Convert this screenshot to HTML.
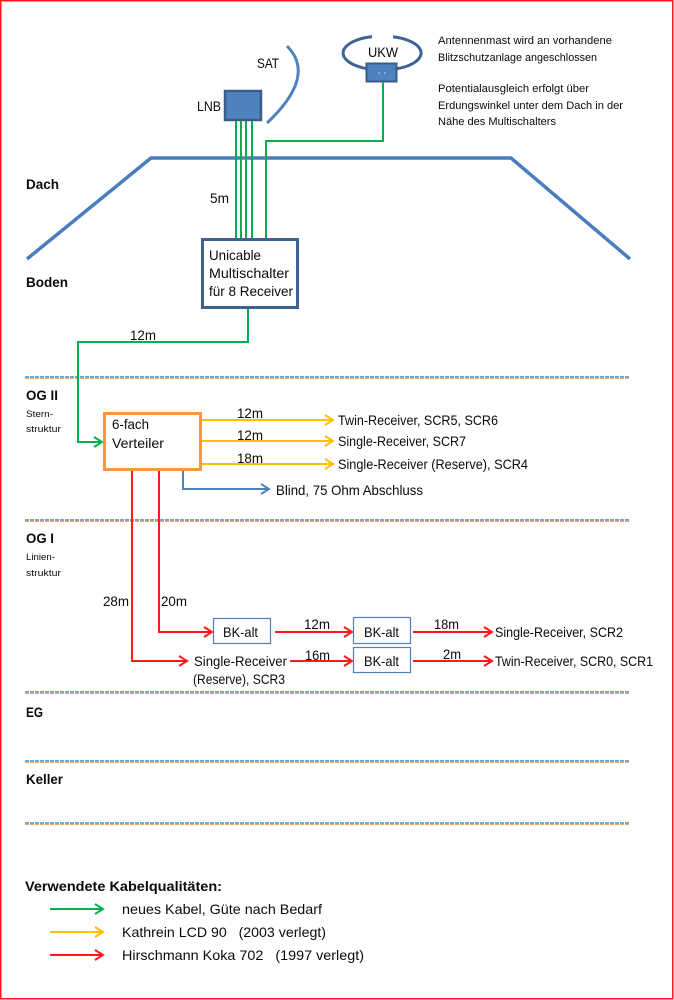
<!DOCTYPE html>
<html><head><meta charset="utf-8"><style>
html,body{margin:0;padding:0;background:#fff;}
svg{display:block;}
text{font-family:"Liberation Sans",sans-serif;fill:#0a0a0a;}
.b{font-weight:bold;}
</style></head><body>
<svg width="674" height="1000" viewBox="0 0 674 1000" xmlns="http://www.w3.org/2000/svg">
<defs>
<g id="sep">
<line x1="25" y1="0.5" x2="630" y2="0.5" stroke="#62aad2" stroke-width="1" stroke-dasharray="4 1"/>
<line x1="25" y1="1.5" x2="630" y2="1.5" stroke="#a89ca4" stroke-width="1" stroke-dasharray="4 1"/>
<line x1="25" y1="2.5" x2="630" y2="2.5" stroke="#e4a864" stroke-width="1" stroke-dasharray="4 1"/>
</g>
</defs>
<rect x="0.75" y="0.75" width="672" height="998" fill="none" stroke="#ff1a1a" stroke-width="1.5"/>

<!-- roof -->
<polyline points="27,259 151,158 511,158 630,259" fill="none" stroke="#4a7dbd" stroke-width="3.5"/>

<!-- SAT dish -->
<path d="M287,46 Q317,76 267,123" fill="none" stroke="#4f81bd" stroke-width="3"/>
<!-- LNB -->
<rect x="225" y="91" width="36" height="29" fill="#4f81bd" stroke="#385d8a" stroke-width="2.5"/>

<!-- UKW -->
<path d="M393,36.7 A39,17 0 1 1 372,36.6" fill="none" stroke="#3f6494" stroke-width="3"/>
<rect x="366.5" y="63.5" width="30" height="18" fill="#4f81bd" stroke="#385d8a" stroke-width="2"/>
<circle cx="379" cy="73" r="0.8" fill="#c8d8ee"/>
<circle cx="385" cy="73" r="0.8" fill="#c8d8ee"/>

<!-- green lines -->
<g stroke="#00b050" stroke-width="2" fill="none">
<line x1="236" y1="121" x2="236" y2="238"/>
<line x1="241" y1="121" x2="241" y2="238"/>
<line x1="246" y1="121" x2="246" y2="238"/>
<line x1="252" y1="121" x2="252" y2="238"/>
<polyline points="383,82 383,141 266,141 266,238"/>
<polyline points="248,309 248,342 78,342 78,442 102,442"/>
<polyline points="94,437 102,442 94,447"/>
</g>

<!-- Multischalter -->
<rect x="202.5" y="239.5" width="95" height="68" fill="#fff" stroke="#41628f" stroke-width="3"/>

<!-- separators -->
<use href="#sep" y="376"/>
<use href="#sep" y="519"/>
<use href="#sep" y="691"/>
<use href="#sep" y="760"/>
<use href="#sep" y="822"/>
<line x1="78" y1="374" x2="78" y2="381" stroke="#00b050" stroke-width="2"/>
<line x1="132" y1="517" x2="132" y2="524" stroke="#ff1a1a" stroke-width="2"/>
<line x1="159" y1="517" x2="159" y2="524" stroke="#ff1a1a" stroke-width="2"/>

<!-- Verteiler -->
<rect x="104.5" y="413.5" width="96" height="56" fill="#fff" stroke="#f79646" stroke-width="3"/>

<!-- yellow -->
<g stroke="#ffc000" stroke-width="2" fill="none">
<line x1="202" y1="420" x2="333" y2="420"/><polyline points="325,415 333,420 325,425"/>
<line x1="202" y1="441" x2="333" y2="441"/><polyline points="325,436 333,441 325,446"/>
<line x1="202" y1="464" x2="333" y2="464"/><polyline points="325,459 333,464 325,469"/>
<line x1="50" y1="932" x2="103" y2="932"/><polyline points="95,927 103,932 95,937"/>
</g>

<!-- blue -->
<g stroke="#4f81bd" stroke-width="2" fill="none">
<polyline points="183,471 183,489 269,489"/><polyline points="261,484 269,489 261,494"/>
</g>

<!-- red -->
<g stroke="#ff1a1a" stroke-width="2" fill="none">
<polyline points="159,471 159,632 212,632"/><polyline points="204,627 212,632 204,637"/>
<polyline points="132,471 132,661 187,661"/><polyline points="179,656 187,661 179,666"/>
<line x1="275" y1="632" x2="352" y2="632"/><polyline points="344,627 352,632 344,637"/>
<line x1="290" y1="661" x2="352" y2="661"/><polyline points="344,656 352,661 344,666"/>
<line x1="413" y1="632" x2="492" y2="632"/><polyline points="484,627 492,632 484,637"/>
<line x1="413" y1="661" x2="492" y2="661"/><polyline points="484,656 492,661 484,666"/>
<line x1="50" y1="955" x2="103" y2="955"/><polyline points="95,950 103,955 95,960"/>
</g>
<g stroke="#00b050" stroke-width="2" fill="none">
<line x1="50" y1="909" x2="103" y2="909"/><polyline points="95,904 103,909 95,914"/>
</g>

<!-- BK boxes -->
<g fill="#fff" stroke="#4f81bd" stroke-width="1.2">
<rect x="213.5" y="618.5" width="57" height="25"/>
<rect x="353.5" y="617.5" width="57" height="26"/>
<rect x="353.5" y="647.5" width="57" height="25"/>
</g>

<!-- text -->
<g font-size="14">
<text x="257" y="68" textLength="22" lengthAdjust="spacingAndGlyphs">SAT</text>
<text x="197" y="111" textLength="24" lengthAdjust="spacingAndGlyphs">LNB</text>
<text x="368" y="57" textLength="30" lengthAdjust="spacingAndGlyphs">UKW</text>
<text x="210" y="203" textLength="19" lengthAdjust="spacingAndGlyphs">5m</text>
<text x="209" y="260" textLength="52" lengthAdjust="spacingAndGlyphs">Unicable</text>
<text x="209" y="278" textLength="80" lengthAdjust="spacingAndGlyphs">Multischalter</text>
<text x="209" y="296" textLength="84" lengthAdjust="spacingAndGlyphs">für 8 Receiver</text>
<text x="130" y="340" textLength="26" lengthAdjust="spacingAndGlyphs">12m</text>
<text x="112" y="429" textLength="37" lengthAdjust="spacingAndGlyphs">6-fach</text>
<text x="112" y="448" textLength="52" lengthAdjust="spacingAndGlyphs">Verteiler</text>
<text x="237" y="418" textLength="26" lengthAdjust="spacingAndGlyphs">12m</text>
<text x="237" y="440" textLength="26" lengthAdjust="spacingAndGlyphs">12m</text>
<text x="237" y="463" textLength="26" lengthAdjust="spacingAndGlyphs">18m</text>
<text x="338" y="425" textLength="160" lengthAdjust="spacingAndGlyphs">Twin-Receiver, SCR5, SCR6</text>
<text x="338" y="446" textLength="128" lengthAdjust="spacingAndGlyphs">Single-Receiver, SCR7</text>
<text x="338" y="469" textLength="190" lengthAdjust="spacingAndGlyphs">Single-Receiver (Reserve), SCR4</text>
<text x="276" y="495" textLength="147" lengthAdjust="spacingAndGlyphs">Blind, 75 Ohm Abschluss</text>
<text x="103" y="606" textLength="26" lengthAdjust="spacingAndGlyphs">28m</text>
<text x="161" y="606" textLength="26" lengthAdjust="spacingAndGlyphs">20m</text>
<text x="223" y="637" textLength="35" lengthAdjust="spacingAndGlyphs">BK-alt</text>
<text x="304" y="629" textLength="26" lengthAdjust="spacingAndGlyphs">12m</text>
<text x="194" y="666" textLength="93" lengthAdjust="spacingAndGlyphs">Single-Receiver</text>
<text x="193" y="684" textLength="92" lengthAdjust="spacingAndGlyphs">(Reserve), SCR3</text>
<text x="305" y="660" textLength="25" lengthAdjust="spacingAndGlyphs">16m</text>
<text x="364" y="637" textLength="35" lengthAdjust="spacingAndGlyphs">BK-alt</text>
<text x="364" y="666" textLength="35" lengthAdjust="spacingAndGlyphs">BK-alt</text>
<text x="434" y="629" textLength="25" lengthAdjust="spacingAndGlyphs">18m</text>
<text x="443" y="659" textLength="18" lengthAdjust="spacingAndGlyphs">2m</text>
<text x="495" y="637" textLength="128" lengthAdjust="spacingAndGlyphs">Single-Receiver, SCR2</text>
<text x="495" y="666" textLength="158" lengthAdjust="spacingAndGlyphs">Twin-Receiver, SCR0, SCR1</text>
<text x="122" y="914" textLength="200" lengthAdjust="spacingAndGlyphs">neues Kabel, Güte nach Bedarf</text>
<text x="122" y="937" textLength="204" lengthAdjust="spacingAndGlyphs" xml:space="preserve" style="white-space:pre">Kathrein LCD 90   (2003 verlegt)</text>
<text x="122" y="960" textLength="242" lengthAdjust="spacingAndGlyphs" xml:space="preserve" style="white-space:pre">Hirschmann Koka 702   (1997 verlegt)</text>
</g>
<g font-size="14" class="b">
<text class="b" x="26" y="189" textLength="33" lengthAdjust="spacingAndGlyphs">Dach</text>
<text class="b" x="26" y="287" textLength="42" lengthAdjust="spacingAndGlyphs">Boden</text>
<text class="b" x="26" y="400" textLength="32" lengthAdjust="spacingAndGlyphs">OG II</text>
<text class="b" x="26" y="543" textLength="28" lengthAdjust="spacingAndGlyphs">OG I</text>
<text class="b" x="26" y="717" textLength="17" lengthAdjust="spacingAndGlyphs">EG</text>
<text class="b" x="26" y="784" textLength="37" lengthAdjust="spacingAndGlyphs">Keller</text>
<text class="b" x="25" y="891" textLength="197" lengthAdjust="spacingAndGlyphs">Verwendete Kabelqualitäten:</text>
</g>
<g font-size="9">
<text x="26" y="417" textLength="27" lengthAdjust="spacingAndGlyphs">Stern-</text>
<text x="26" y="432" textLength="35" lengthAdjust="spacingAndGlyphs">struktur</text>
<text x="26" y="560" textLength="29" lengthAdjust="spacingAndGlyphs">Linien-</text>
<text x="26" y="576" textLength="35" lengthAdjust="spacingAndGlyphs">struktur</text>
</g>
<g font-size="11">
<text x="438" y="44" textLength="174" lengthAdjust="spacingAndGlyphs">Antennenmast wird an vorhandene</text>
<text x="438" y="61" textLength="159" lengthAdjust="spacingAndGlyphs">Blitzschutzanlage angeschlossen</text>
<text x="438" y="92" textLength="151" lengthAdjust="spacingAndGlyphs">Potentialausgleich erfolgt über</text>
<text x="438" y="109" textLength="185" lengthAdjust="spacingAndGlyphs">Erdungswinkel unter dem Dach in der</text>
<text x="438" y="125" textLength="118" lengthAdjust="spacingAndGlyphs">Nähe des Multischalters</text>
</g>
</svg>
</body></html>
